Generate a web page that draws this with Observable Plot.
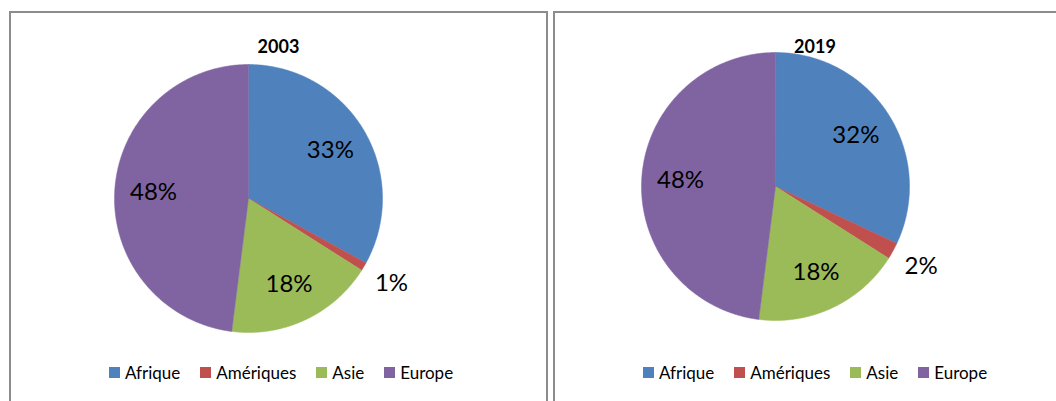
<!DOCTYPE html>
<html>
<head>
<meta charset="utf-8">
<script src="https://cdn.jsdelivr.net/npm/d3@7"></script>
<script src="https://cdn.jsdelivr.net/npm/@observablehq/plot@0.6"></script>
<style>
  html, body { margin: 0; padding: 0; background: #fff; width: 1056px; height: 401px; overflow: hidden; }
  .panel { position: absolute; border: 2px solid #8c8c8c; box-sizing: border-box; background: #fff; overflow: hidden; }
  .panel .title { position: absolute; left: 0; right: 0; text-align: center; font: bold 18px Lato, sans-serif; line-height: 18px; color: #000; }
  .panel .chart { position: absolute; left: 0; top: 0; }
  .panel .legend-box { position: absolute; left: 0; right: 0; }
  .legend-box > div { font-family: Lato, sans-serif !important; font-size: 17px !important; color: #000 !important; margin: 0 !important; }
  .legend-box [class$="-swatches-wrap"], .legend-box [class$="-swatches"] { justify-content: center !important; min-height: 20px !important; }
  .legend-box [class$="-swatch"] { margin-right: 20px !important; }
  .legend-box [class$="-swatch"]:last-child { margin-right: 0 !important; }
  .legend-box [class$="-swatch"] > svg { margin-right: 5px !important; }
</style>
</head>
<body>
<div id="root"></div>
<script>
// ---- data ----
const categories = ["Afrique", "Amériques", "Asie", "Europe"];
const colors = ["#4F81BD", "#C0504D", "#9BBB59", "#8064A2"];
const years = ["2003", "2019"];
const shares2003 = [33, 1, 18, 48];
const shares2019 = [32, 2, 18, 48];
const labels2003 = ["33%", "1%", "18%", "48%"];
const labels2019 = ["32%", "2%", "18%", "48%"];

// ---- layout ----
const panels = [
  {year: years[0], shares: shares2003, labels: labels2003, left: 9, width: 539, cx: 237, cy: 185, legendShift: 5},
  {year: years[1], shares: shares2019, labels: labels2019, left: 553, width: 524, cx: 220, cy: 173, legendShift: 0}
];
const R = 134;           // pie radius in px
const H = 340;           // svg height
const root = document.getElementById("root");

for (const p of panels) {
  const div = document.createElement("div");
  div.className = "panel";
  div.style.left = p.left + "px";
  div.style.top = "11px";
  div.style.width = p.width + "px";
  div.style.height = "430px";
  root.appendChild(div);
  const W = p.width - 4;

  const rows = categories.map((c, i) => ({cat: c, value: p.shares[i], label: p.labels[i]}));
  const arcs = d3.pie().sort(null).value(d => d.value)(rows);

  // polygon points for each slice (unit circle, angle clockwise from 12 o'clock)
  const pts = [];
  for (const a of arcs) {
    pts.push({cat: a.data.cat, x: 0, y: 0});
    const n = Math.max(2, Math.ceil((a.endAngle - a.startAngle) / (Math.PI / 360)));
    for (let k = 0; k <= n; k++) {
      const t = a.startAngle + (a.endAngle - a.startAngle) * k / n;
      pts.push({cat: a.data.cat, x: Math.sin(t), y: -Math.cos(t)});
    }
  }
  // label positions: inside for large slices, outside for small ones
  const labs = arcs.map(a => {
    const m = (a.startAngle + a.endAngle) / 2;
    const f = a.data.value < 5 ? 1.24 : 0.71;
    return {label: a.data.label, x: f * Math.sin(m), y: -f * Math.cos(m)};
  });

  const chart = Plot.plot({
    width: W,
    height: H,
    margin: 0,
    x: {domain: [-p.cx / R, (W - p.cx) / R], range: [0, W], axis: null},
    y: {domain: [-p.cy / R, (H - p.cy) / R], range: [0, H], axis: null},
    color: {domain: categories, range: colors},
    style: {background: "transparent", overflow: "visible"},
    marks: [
      Plot.line(pts, {x: "x", y: "y", z: "cat", fill: "cat", stroke: "cat", strokeWidth: 0.5, curve: "linear-closed"}),
      Plot.text(labs, {x: "x", y: "y", text: "label", fontSize: 24, fontFamily: "Lato, sans-serif", fill: "#000"})
    ]
  });
  chart.classList.add("chart");
  div.appendChild(chart);

  const title = document.createElement("div");
  title.className = "title";
  title.style.top = "24px";
  title.textContent = p.year;
  div.appendChild(title);

  const lb = document.createElement("div");
  lb.className = "legend-box";
  lb.style.top = "349px";
  lb.style.paddingLeft = p.legendShift + "px";
  lb.appendChild(Plot.legend({color: {domain: categories, range: colors}, legend: "swatches", swatchSize: 11, className: "lg"}));
  div.appendChild(lb);
}
</script>
</body>
</html>
